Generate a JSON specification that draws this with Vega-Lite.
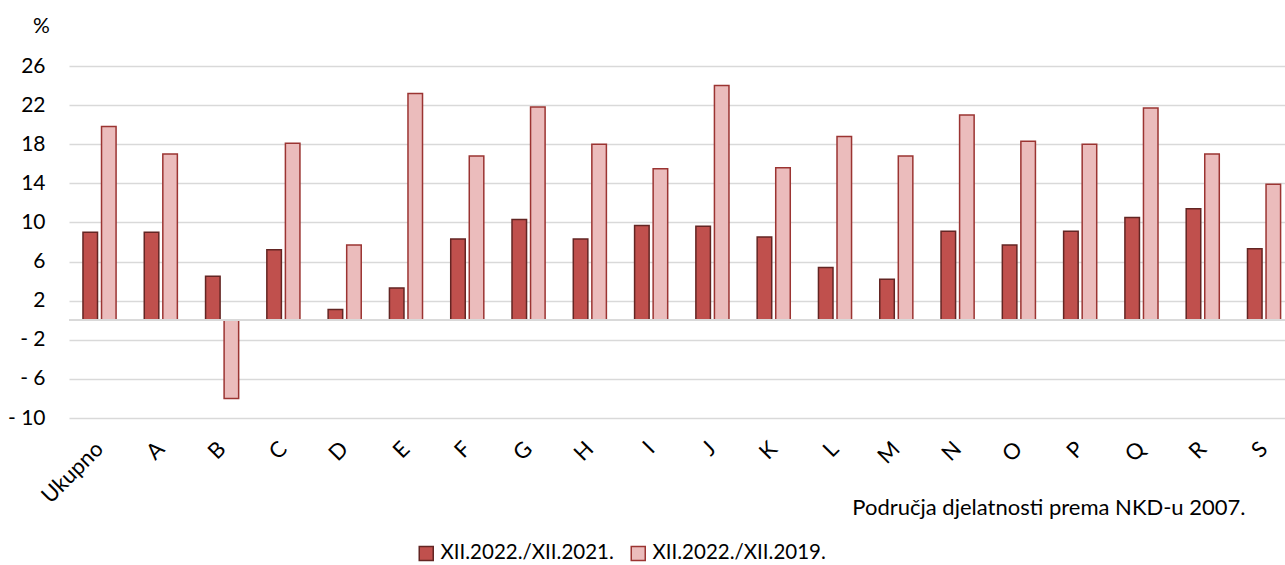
{
  "$schema": "https://vega.github.io/schema/vega-lite/v6.json",
  "width": 1216,
  "height": 352,
  "autosize": "none",
  "padding": {"left": 69, "top": 66, "right": 0, "bottom": 147},
  "background": "white",
  "config": {
    "view": {"stroke": null},
    "font": "Lato",
    "axis": {"labelFont": "Lato", "titleFont": "Lato", "labelColor": "#000000", "titleColor": "#000000"},
    "axisY": {"labelOverlap": false, "tickCount": 20},
    "axisX": {"labelOverlap": false},
    "legend": {"labelFont": "Lato"}
  },
  "data": {
    "values": [
      {"cat": "Ukupno", "series": "XII.2022./XII.2021.", "value": 9.0},
      {"cat": "Ukupno", "series": "XII.2022./XII.2019.", "value": 19.8},
      {"cat": "A", "series": "XII.2022./XII.2021.", "value": 9.0},
      {"cat": "A", "series": "XII.2022./XII.2019.", "value": 17.0},
      {"cat": "B", "series": "XII.2022./XII.2021.", "value": 4.5},
      {"cat": "B", "series": "XII.2022./XII.2019.", "value": -8.0},
      {"cat": "C", "series": "XII.2022./XII.2021.", "value": 7.2},
      {"cat": "C", "series": "XII.2022./XII.2019.", "value": 18.1},
      {"cat": "D", "series": "XII.2022./XII.2021.", "value": 1.1},
      {"cat": "D", "series": "XII.2022./XII.2019.", "value": 7.7},
      {"cat": "E", "series": "XII.2022./XII.2021.", "value": 3.3},
      {"cat": "E", "series": "XII.2022./XII.2019.", "value": 23.2},
      {"cat": "F", "series": "XII.2022./XII.2021.", "value": 8.3},
      {"cat": "F", "series": "XII.2022./XII.2019.", "value": 16.8},
      {"cat": "G", "series": "XII.2022./XII.2021.", "value": 10.3},
      {"cat": "G", "series": "XII.2022./XII.2019.", "value": 21.8},
      {"cat": "H", "series": "XII.2022./XII.2021.", "value": 8.3},
      {"cat": "H", "series": "XII.2022./XII.2019.", "value": 18.0},
      {"cat": "I", "series": "XII.2022./XII.2021.", "value": 9.7},
      {"cat": "I", "series": "XII.2022./XII.2019.", "value": 15.5},
      {"cat": "J", "series": "XII.2022./XII.2021.", "value": 9.6},
      {"cat": "J", "series": "XII.2022./XII.2019.", "value": 24.0},
      {"cat": "K", "series": "XII.2022./XII.2021.", "value": 8.5},
      {"cat": "K", "series": "XII.2022./XII.2019.", "value": 15.6},
      {"cat": "L", "series": "XII.2022./XII.2021.", "value": 5.4},
      {"cat": "L", "series": "XII.2022./XII.2019.", "value": 18.8},
      {"cat": "M", "series": "XII.2022./XII.2021.", "value": 4.2},
      {"cat": "M", "series": "XII.2022./XII.2019.", "value": 16.8},
      {"cat": "N", "series": "XII.2022./XII.2021.", "value": 9.1},
      {"cat": "N", "series": "XII.2022./XII.2019.", "value": 21.0},
      {"cat": "O", "series": "XII.2022./XII.2021.", "value": 7.7},
      {"cat": "O", "series": "XII.2022./XII.2019.", "value": 18.3},
      {"cat": "P", "series": "XII.2022./XII.2021.", "value": 9.1},
      {"cat": "P", "series": "XII.2022./XII.2019.", "value": 18.0},
      {"cat": "Q", "series": "XII.2022./XII.2021.", "value": 10.5},
      {"cat": "Q", "series": "XII.2022./XII.2019.", "value": 21.7},
      {"cat": "R", "series": "XII.2022./XII.2021.", "value": 11.4},
      {"cat": "R", "series": "XII.2022./XII.2019.", "value": 17.0},
      {"cat": "S", "series": "XII.2022./XII.2021.", "value": 7.3},
      {"cat": "S", "series": "XII.2022./XII.2019.", "value": 13.9}
    ]
  },
  "layer": [
    {
      "mark": {"type": "bar", "strokeWidth": 1.5},
      "encoding": {
        "x": {
          "field": "cat", "type": "nominal", "sort": null,
          "scale": {"paddingInner": 0.46, "paddingOuter": 0.15, "align": 0.76},
          "axis": {
            "title": "Područja djelatnosti prema NKD-u 2007.",
            "titleFontSize": 22, "titleFontWeight": "normal",
            "titleAlign": "right", "titleAnchor": null, "titleX": 1176, "titleY": 89, "titleBaseline": "middle",
            "labelAngle": -45, "labelFontSize": 22, "labelPadding": 27, "labelOverlap": false,
            "labelAlign": "right", "labelBaseline": "middle",
            "domain": false, "ticks": false, "grid": false, "orient": "bottom", "offset": 0
          }
        },
        "xOffset": {
          "field": "series", "type": "nominal",
          "scale": {"domain": ["XII.2022./XII.2021.", "XII.2022./XII.2019."], "paddingInner": 0.216, "paddingOuter": 0}
        },
        "y": {
          "field": "value", "type": "quantitative",
          "scale": {"domain": [-10, 26], "nice": false, "zero": false},
          "axis": {
            "values": [-10, -6, -2, 2, 6, 10, 14, 18, 22, 26],
            "tickCount": 20,
            "labelExpr": "datum.value < 0 ? '- ' + abs(datum.value) : '' + datum.value",
            "labelFontSize": 21, "labelPadding": 24, "labelOverlap": false, "labelFlush": false,
            "domain": false, "ticks": false,
            "grid": true, "gridColor": "#d9d9d9", "gridWidth": 1.5,
            "title": "%", "titleAngle": 0, "titleFontSize": 21, "titleFontWeight": "normal",
            "titleAlign": "center", "titleBaseline": "middle", "titleX": -28, "titleY": -40
          }
        },
        "fill": {
          "field": "series", "type": "nominal",
          "scale": {"domain": ["XII.2022./XII.2021.", "XII.2022./XII.2019."], "range": ["#c0504d", "#ebbcbc"]},
          "legend": {
            "title": null, "orient": "none", "direction": "horizontal",
            "legendX": 347, "legendY": 477,
            "symbolType": "square", "symbolSize": 196, "symbolStrokeWidth": 1.5,
            "labelFontSize": 20.5, "labelColor": "#000000", "labelLimit": 0, "columnPadding": 14, "labelOffset": 4
          }
        },
        "stroke": {
          "field": "series", "type": "nominal",
          "scale": {"domain": ["XII.2022./XII.2021.", "XII.2022./XII.2019."], "range": ["#632523", "#9b3432"]},
          "legend": {
            "title": null, "orient": "none", "direction": "horizontal",
            "legendX": 347, "legendY": 477,
            "symbolType": "square", "symbolSize": 196, "symbolStrokeWidth": 1.5,
            "labelFontSize": 20.5, "labelColor": "#000000", "labelLimit": 0, "columnPadding": 14, "labelOffset": 4
          }
        }
      }
    },
    {
      "mark": {"type": "rule", "color": "#d9d9d9", "strokeWidth": 1.5},
      "encoding": {"y": {"datum": 0}}
    }
  ]
}
